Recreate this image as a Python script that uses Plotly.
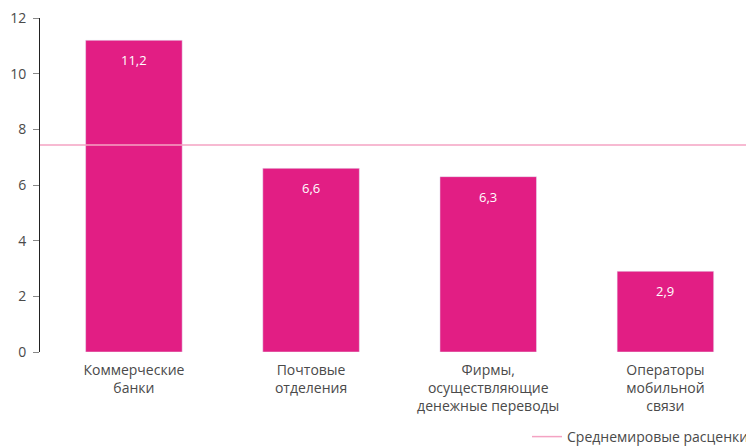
import plotly.graph_objects as go

categories = ["Коммерческие<br>банки", "Почтовые<br>отделения",
              "Фирмы,<br>осуществляющие<br>денежные переводы",
              "Операторы<br>мобильной<br>связи"]
values = [11.2, 6.6, 6.3, 2.9]
world_avg = 7.44
avg_name = "Среднемировые расценки"
y_ticks = [0, 2, 4, 6, 8, 10, 12]

bar_color = "#E21E84"
avg_color = "#F4A3C3"
text_color = "#4A4A4A"
font_family = "Open Sans, Noto Sans, sans-serif"

fig = go.Figure()
fig.add_trace(go.Bar(x=categories, y=values, marker_color=bar_color,
                     width=0.545, showlegend=False, hoverinfo="skip"))
# legend entry for the average line
fig.add_trace(go.Scatter(x=[None], y=[None], mode="lines", name=avg_name,
                         line=dict(color=avg_color, width=1.5)))
fig.add_shape(type="line", xref="paper", yref="y", x0=0, x1=1,
              y0=world_avg, y1=world_avg,
              line=dict(color=avg_color, width=1.5), layer="above")

for c, v in zip(categories, values):
    fig.add_annotation(x=c, y=v, yshift=-20, showarrow=False,
                       text=f"{v:.1f}".replace(".", ","),
                       font=dict(color="white", size=13, family=font_family))

# page body has an 8px default margin, so the figure is sized to fit the window
fig.update_layout(
    width=746, height=440,
    margin=dict(l=32, r=0, t=10, b=96, autoexpand=False),
    plot_bgcolor="white", paper_bgcolor="white",
    font=dict(family=font_family, size=13, color=text_color),
    legend=dict(orientation="h", xref="container", x=1, xanchor="right",
                yref="container", y=0.025, yanchor="middle",
                font=dict(size=14, color=text_color)),
    xaxis=dict(range=[-0.53, 3.5], showline=False, ticks="", showgrid=False,
               automargin=False, ticklabelstandoff=8,
               tickfont=dict(size=14, color=text_color)),
    yaxis=dict(range=[0, 12], tickvals=y_ticks, showgrid=False, zeroline=False,
               showline=True, linecolor="#222", linewidth=1,
               ticks="outside", ticklen=6, tickcolor="#888",
               automargin=False, ticklabelstandoff=4, ticklabeloverflow="allow",
               tickfont=dict(size=14, color=text_color)),
)

fig.write_html("out.html")
